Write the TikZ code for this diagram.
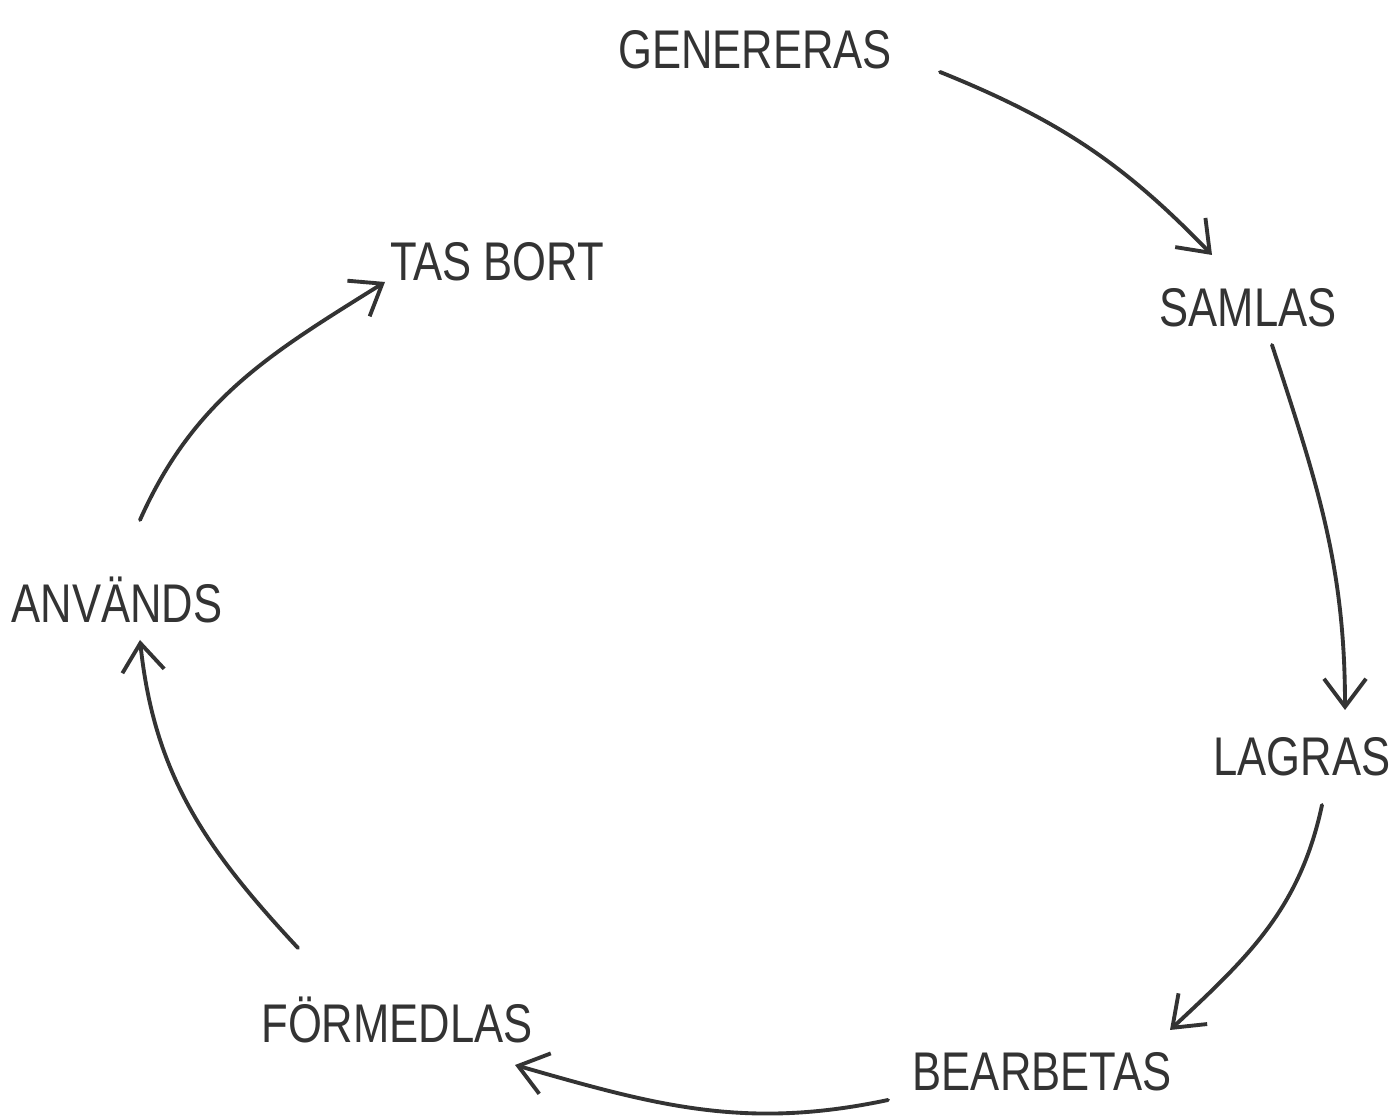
\documentclass[tikz,border=0pt]{standalone}
\usepackage{fontspec}
\setmainfont{Liberation Sans}[FakeStretch=0.8]
\usetikzlibrary{arrows.meta,calc}
\definecolor{ink}{HTML}{333333}
\tikzset{
  lbl/.style={font=\fontsize{15.5}{18}\selectfont, text=ink, inner sep=0pt},
  arr/.style={draw=ink, line width=1.1pt, line cap=round,
    -{Straight Barb[length=2.8mm,width=4.2mm,line width=1.1pt]}}
}
\begin{document}
\begin{tikzpicture}[x=0.1mm,y=0.1mm]
\fill[white] (0,0) rectangle (1396,1120);
\useasboundingbox (0,0) rectangle (1396,1120);
\node[lbl] (gen) at (755,1070) {GENERERAS};
\node[lbl] (sam) at (1248,812) {SAMLAS};
\node[lbl] (lag) at (1302,363) {LAGRAS};
\node[lbl] (bea) at (1042,48) {BEARBETAS};
\node[lbl] (for) at (397,100) {FÖRMEDLAS};
\node[lbl] (anv) at (117,520) {ANVÄNDS};
\node[lbl] (tas) at (497,858) {TAS BORT};
\draw[arr] ($(gen)+(185,-22)$) to[out=-22,in=134] ($(sam)+(-36,53)$);
\draw[arr] ($(sam)+(24,-37)$) to[out=-72,in=90] ($(lag)+(43,47)$);
\draw[arr] ($(lag)+(20,-48)$) to[out=-102,in=43] ($(bea)+(128,42)$);
\draw[arr] ($(bea)+(-154,-28)$) to[out=-168,in=-16] ($(for)+(118,-45)$);
\draw[arr] ($(for)+(-99,72)$) to[out=133,in=-84] ($(anv)+(23,-40)$);
\draw[arr] ($(anv)+(23,80)$) to[out=66,in=-148] ($(tas)+(-112,-20)$);
\end{tikzpicture}
\end{document}
